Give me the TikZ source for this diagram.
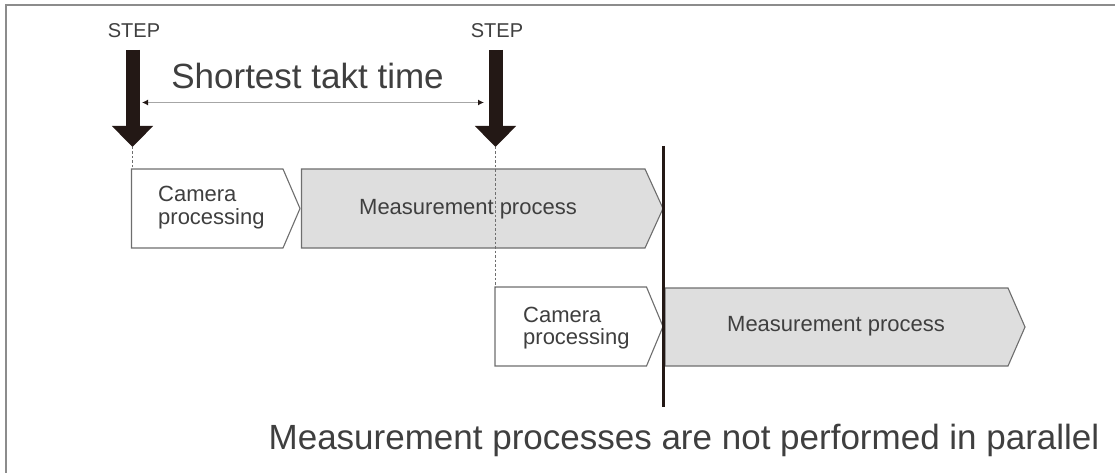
\documentclass[tikz,border=0pt]{standalone}
\usepackage{fontspec}
\setmainfont{Liberation Sans}
\usetikzlibrary{arrows.meta}
\definecolor{ink}{HTML}{231815}
\definecolor{txt}{HTML}{3F3F3F}
\definecolor{boxline}{HTML}{6E6E6E}
\definecolor{boxfill}{HTML}{DEDEDE}
\definecolor{frame}{HTML}{8C8C8C}
\tikzset{
  stepbox/.style={text=txt, inner sep=0pt, font=\fontsize{20}{22}\selectfont},
  steparrow/.style={draw=ink, line width=14pt, -{Triangle[length=21pt,width=40pt,fill=ink]}},
  guide/.style={draw=boxline, line width=0.9pt, dash pattern=on 2.5pt off 2pt},
  takt/.style={draw=black!35, line width=1.8pt, {Latex[length=6pt,width=6pt,color=ink]}-{Latex[length=6pt,width=6pt,color=ink]}},
  wbox/.style={draw=boxline, line width=1.1pt, fill=white},
  gbox/.style={draw=boxline, line width=1.1pt, fill=boxfill},
  boxtext/.style={text=txt, inner sep=0pt, align=left, font=\fontsize{22}{22.5}\selectfont},
  bigtext/.style={text=txt, inner sep=0pt, font=\fontsize{35}{38}\selectfont},
  barrier/.style={draw=ink, line width=3pt}
}
\begin{document}
\begin{tikzpicture}[x=1pt,y=-1pt]
\useasboundingbox (0,0) rectangle (1115,473);
% frame (top and left edges)
\draw[frame, line width=2pt] (6,473) -- (6,5) -- (1115,5);

% STEP labels and arrows
\node[stepbox] (step1) at (134,31) {STEP};
\node[stepbox] (step2) at (497,31) {STEP};
\coordinate (s1top) at (132.5,50);
\coordinate (s1tip) at (132.5,147);
\coordinate (s2top) at (495.5,50);
\coordinate (s2tip) at (495.5,147);
\draw[steparrow] (s1top) -- (s1tip);
\draw[steparrow] (s2top) -- (s2tip);

% takt time
\node[bigtext] (takt) at (307.5,76) {Shortest takt time};
\coordinate (tl) at (142,102.5);
\coordinate (tr) at (484,102.5);
\draw[takt] (tl) -- (tr);

% first row
\draw[wbox] (131.5,169) -- (283,169) -- (300,208.5) -- (283,248) -- (131.5,248) -- cycle;
\draw[gbox] (301.5,169) -- (645,169) -- (663,208.5) -- (645,248) -- (301.5,248) -- cycle;
\node[boxtext, anchor=west] (cam1) at (158,207.5) {Camera\\processing};
\node[boxtext] (meas1) at (468,209) {Measurement process};

% second row
\draw[wbox] (495,287) -- (646.5,287) -- (663,326.5) -- (646.5,366) -- (495,366) -- cycle;
\draw[gbox] (665,288) -- (1008,288) -- (1025,327) -- (1008,366) -- (665,366) -- cycle;
\node[boxtext, anchor=west] (cam2) at (523,328) {Camera\\processing};
\node[boxtext] (meas2) at (836,326.5) {Measurement process};

% guide lines
\coordinate (b1top) at (132.5,169);
\coordinate (b2top) at (495.5,287);
\draw[guide] (s1tip) -- (b1top);
\draw[guide] (s2tip) -- (b2top);

% barrier line
\coordinate (bartop) at (663.5,146);
\coordinate (barbot) at (663.5,407);
\draw[barrier] (bartop) -- (barbot);

% bottom note
\node[bigtext] (note) at (684,440) {Measurement processes are not performed in parallel};
\end{tikzpicture}
\end{document}
